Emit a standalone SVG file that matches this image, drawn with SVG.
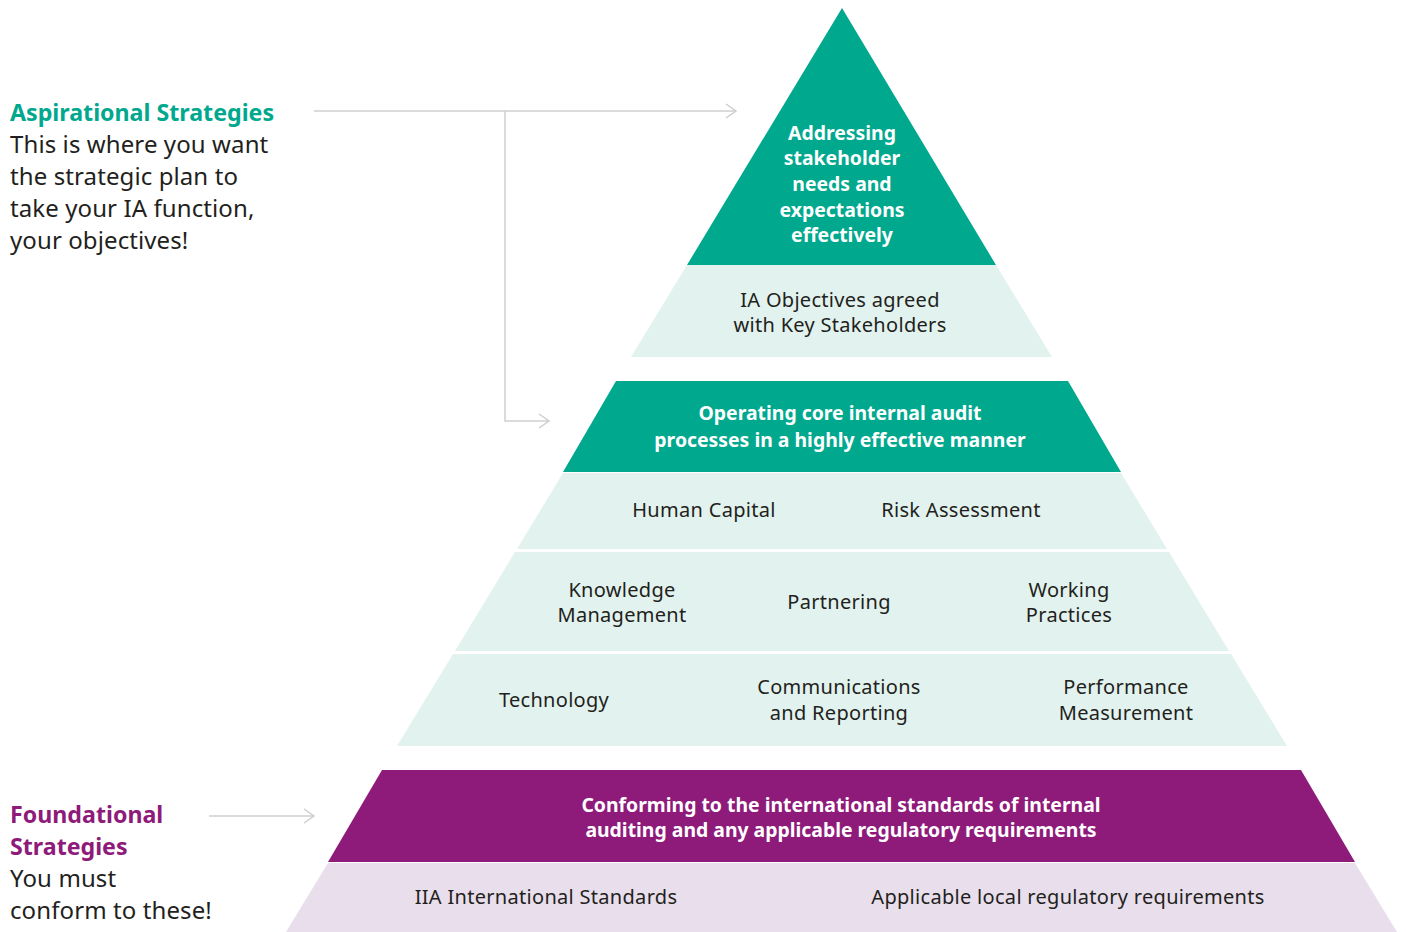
<svg xmlns="http://www.w3.org/2000/svg" width="1406" height="932" viewBox="0 0 1406 932">
<defs>
<style>
text{font-family:"Noto Sans","Open Sans",sans-serif;}
.side{font-size:24px;letter-spacing:0.1px;fill:#231f20;}
.hg{font-size:23.2px;font-weight:700;fill:#00a88e;}
.hp{font-size:23.2px;font-weight:700;fill:#8e1a7a;}
.w{font-size:19.4px;font-weight:700;fill:#fff;text-anchor:middle;}
.d{font-size:20px;letter-spacing:0.3px;fill:#231f20;text-anchor:middle;}
.g{fill:#00a88e;}
.lg{fill:#e2f2ee;}
.p{fill:#8e1a7a;}
.lp{fill:#e8deec;}
.conn{fill:none;stroke:#cfcfcf;stroke-width:1.5;}
</style>
<marker id="arr" markerWidth="14" markerHeight="16" refX="12" refY="8" orient="auto" markerUnits="userSpaceOnUse">
<path d="M2,1 L12,8 L2,15" fill="none" stroke="#cfcfcf" stroke-width="1.5"/>
</marker>
</defs>
<rect width="1406" height="932" fill="#fff"/>

<g id="connectors">
<path class="conn" d="M314,111 H736" marker-end="url(#arr)"/>
<path class="conn" d="M505,111 V421 H549" marker-end="url(#arr)"/>
<path class="conn" d="M209,816 H314" marker-end="url(#arr)"/>
</g>

<g id="aspirational-label">
<text class="hg" x="10" y="121">Aspirational Strategies</text>
<text class="side" x="10" y="153">This is where you want</text>
<text class="side" x="10" y="185">the strategic plan to</text>
<text class="side" x="10" y="217">take your IA function,</text>
<text class="side" x="10" y="249">your objectives!</text>
</g>

<g id="foundational-label">
<text class="hp" x="10" y="823">Foundational</text>
<text class="hp" x="10" y="855">Strategies</text>
<text class="side" x="10" y="887">You must</text>
<text class="side" x="10" y="919">conform to these!</text>
</g>

<g id="top-apex">
<polygon class="g" points="842,8 996,265 687,265"/>
<text class="w" x="842" y="140">Addressing</text>
<text class="w" x="842" y="165">stakeholder</text>
<text class="w" x="842" y="191">needs and</text>
<text class="w" x="842" y="217">expectations</text>
<text class="w" x="842" y="242">effectively</text>
</g>

<g id="ia-objectives">
<polygon class="lg" points="687,265 996,265 1052,357 631,357"/>
<text class="d" x="840" y="307">IA Objectives agreed</text>
<text class="d" x="840" y="332">with Key Stakeholders</text>
</g>

<g id="operating-core">
<polygon class="g" points="616,381 1068,381 1121,472 563,472"/>
<text class="w" x="840" y="420">Operating core internal audit</text>
<text class="w" x="840" y="447">processes in a highly effective manner</text>
</g>

<g id="band-1">
<polygon class="lg" points="563,473 1121,473 1167,549 517,549"/>
<text class="d" x="704" y="517">Human Capital</text>
<text class="d" x="961" y="517">Risk Assessment</text>
</g>

<g id="band-2">
<polygon class="lg" points="515,552 1169,552 1229,651 455,651"/>
<text class="d" x="622" y="597">Knowledge</text>
<text class="d" x="622" y="622">Management</text>
<text class="d" x="839" y="609">Partnering</text>
<text class="d" x="1069" y="597">Working</text>
<text class="d" x="1069" y="622">Practices</text>
</g>

<g id="band-3">
<polygon class="lg" points="453,654 1231,654 1287,746 397,746"/>
<text class="d" x="554" y="707">Technology</text>
<text class="d" x="839" y="694">Communications</text>
<text class="d" x="839" y="720">and Reporting</text>
<text class="d" x="1126" y="694">Performance</text>
<text class="d" x="1126" y="720">Measurement</text>
</g>

<g id="conforming">
<polygon class="p" points="382,770 1301,770 1355,862 328,862"/>
<text class="w" x="841" y="812">Conforming to the international standards of internal</text>
<text class="w" x="841" y="837">auditing and any applicable regulatory requirements</text>
</g>

<g id="standards">
<polygon class="lp" points="328,863 1355,863 1397,932 286,932"/>
<text class="d" x="546" y="904">IIA International Standards</text>
<text class="d" x="1068" y="904">Applicable local regulatory requirements</text>
</g>
</svg>
